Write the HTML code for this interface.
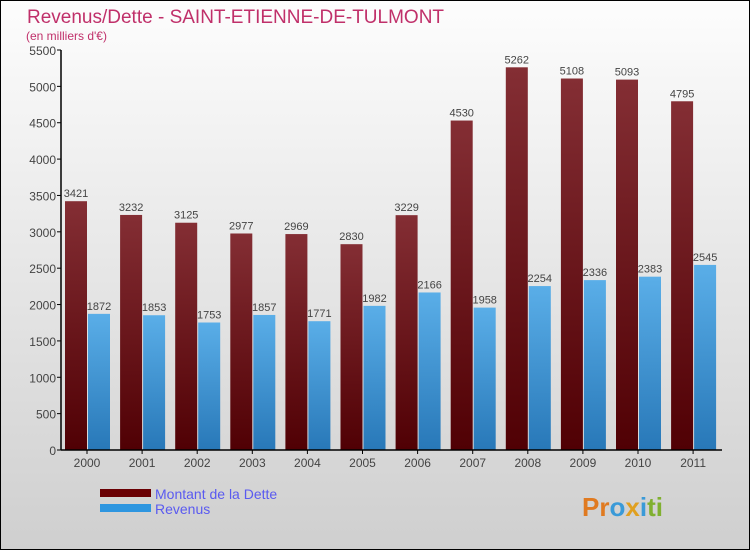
<!DOCTYPE html>
<html><head><meta charset="utf-8"><style>
body{margin:0;width:750px;height:550px;overflow:hidden;font-family:"Liberation Sans",sans-serif}
</style></head><body>
<svg width="750" height="550" xmlns="http://www.w3.org/2000/svg">
<defs>
<linearGradient id="bg" x1="0" y1="0" x2="0" y2="1"><stop offset="0" stop-color="#fdfdfd"/><stop offset="1" stop-color="#cfcfcf"/></linearGradient>
<linearGradient id="gd" x1="0" y1="0" x2="0" y2="1"><stop offset="0" stop-color="#842e34"/><stop offset="1" stop-color="#500004"/></linearGradient>
<linearGradient id="gr" x1="0" y1="0" x2="0" y2="1"><stop offset="0" stop-color="#5aaee8"/><stop offset="1" stop-color="#2878b8"/></linearGradient>
</defs>
<rect x="0.5" y="0.5" width="749" height="549" fill="url(#bg)" stroke="#000"/>
<text x="27" y="23" font-size="19" fill="#c0306a">Revenus/Dette - SAINT-ETIENNE-DE-TULMONT</text>
<text x="26" y="40" font-size="12" fill="#c0306a">(en milliers d'€)</text>
<g id="plot"></g>
<rect x="100" y="489" width="51" height="8" fill="#6a0004"/>
<text x="155" y="499" font-size="14" fill="#5a5af0">Montant de la Dette</text>
<rect x="100" y="504" width="51" height="8" fill="#2e96e0"/>
<text x="155" y="514" font-size="14" fill="#5a5af0">Revenus</text>
<text x="582" y="516" font-size="26" font-weight="bold"><tspan fill="#e07a20">Pr</tspan><tspan fill="#3a9ad8">o</tspan><tspan fill="#e0a020">x</tspan><tspan fill="#3a9ad8">i</tspan><tspan fill="#80b030">ti</tspan></text>
</svg>
<script>
const years=["2000","2001","2002","2003","2004","2005","2006","2007","2008","2009","2010","2011"];
const dette=[3421,3232,3125,2977,2969,2830,3229,4530,5262,5108,5093,4795];
const revenus=[1872,1853,1753,1857,1771,1982,2166,1958,2254,2336,2383,2545];
const ticks=[0,500,1000,1500,2000,2500,3000,3500,4000,4500,5000,5500];
const NS="http://www.w3.org/2000/svg";
const g=document.getElementById('plot');
const y0=450,ymax=5500,ph=400;
const Y=v=>y0-v/ymax*ph;
const X=i=>87+i*55.1;
function mk(t,a,txt){const e=document.createElementNS(NS,t);for(const k in a)e.setAttribute(k,a[k]);if(txt!==undefined)e.textContent=txt;g.appendChild(e);return e;}
ticks.forEach(t=>{
 const l=mk('line',{x1:57,x2:61,y1:Y(t),y2:Y(t),stroke:'#000'});
 
 
 const tx=mk('text',{x:56,y:Y(t)+5,'font-size':12,fill:'#444','text-anchor':'end'},String(t));
 
 
});
years.forEach((yr,i)=>{
 const c=X(i);
 const b1=mk('rect',{x:c-22,y:Y(dette[i]),width:22,height:y0-Y(dette[i]),fill:'url(#gd)'});
 
 
 const b2=mk('rect',{x:c+1,y:Y(revenus[i]),width:22,height:y0-Y(revenus[i]),fill:'url(#gr)'});
 
 
 const t1=mk('text',{x:c-11,y:Y(dette[i])-4,'font-size':11,fill:'#444','text-anchor':'middle'},String(dette[i]));
 
 
 const t2=mk('text',{x:c+12,y:Y(revenus[i])-4,'font-size':11,fill:'#444','text-anchor':'middle'},String(revenus[i]));
 
 
 const tk=mk('line',{x1:c,x2:c,y1:y0,y2:y0+4,stroke:'#000'});
 
 
 const xl=mk('text',{x:c,y:y0+17,'font-size':12,fill:'#444','text-anchor':'middle'},yr);
 
 
});
const ya=mk('line',{x1:61,x2:61,y1:Y(5500),y2:y0,stroke:'#000','stroke-width':1.5});


const xa=mk('line',{x1:61,x2:722,y1:y0,y2:y0,stroke:'#000','stroke-width':1.5});


</script>
</body></html>
